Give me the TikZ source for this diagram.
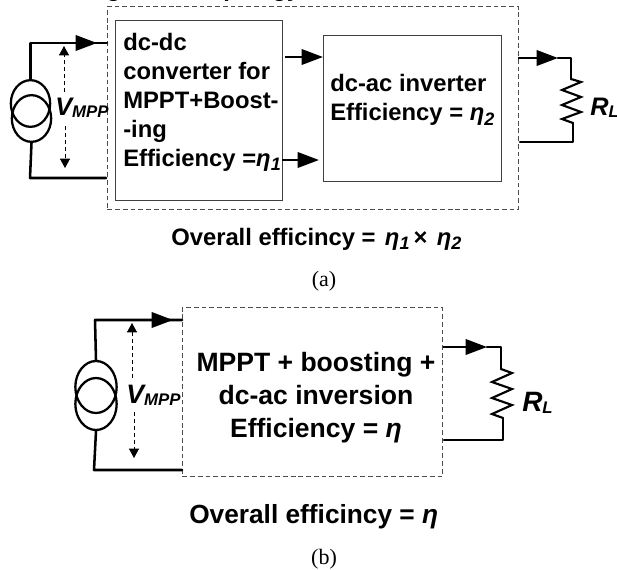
\documentclass[tikz,border=0pt]{standalone}
\usepackage{fontspec}
\setmainfont{Liberation Sans}
\newfontfamily\capfont{Liberation Serif}
\usetikzlibrary{arrows.meta,shapes.geometric}
\newcommand{\fs}[1]{\fontsize{#1}{#1}\selectfont}
\newcommand{\lowtxt}[1]{\raisebox{-0.2em}{\fontsize{13.5}{13.5}\selectfont\textit{#1}}}
\newcommand{\lowsm}[1]{\raisebox{-0.1em}{\fontsize{12.6}{12.6}\selectfont\textit{#1}}}
\tikzset{
  wire/.style={line width=1.9pt,line cap=round,line join=round},
  zig/.style={line width=1.6pt,line cap=round,line join=miter},
  thinbox/.style={draw=black!75,line width=.8pt,inner sep=0pt,anchor=north west},
  dashbox/.style={draw=black!70,line width=.7pt,dash pattern=on 3.6pt off 2.2pt,inner sep=0pt,anchor=north west},
  headtip/.style={line width=1.9pt,-{Triangle[length=16pt,width=11.5pt]}},
  volt/.style={line width=.6pt,dash pattern=on 3pt off 2.2pt,-{Triangle[length=7pt,width=7.5pt]}},
  srcA/.style={draw,ellipse,line width=1.7pt,inner sep=0pt,minimum width=29.5pt,minimum height=35pt},
  srcB/.style={draw,ellipse,line width=1.7pt,inner sep=0pt,minimum width=31pt,minimum height=39pt},
  lab/.style={inner sep=0pt},
  captext/.style={inner sep=0pt,font=\capfont\fs{16.5}},
}
\begin{document}
\begin{tikzpicture}[x=.75pt,y=-.75pt]
\useasboundingbox (0,0) rectangle (617,569);
\begin{scope}
\clip (0,0) rectangle (617,569);
\node[lab,anchor=base west,font=\bfseries\fs{17.85}] (cutg) at (106,-4) {g};
\node[lab,anchor=base west,font=\bfseries\fs{17.85}] (cutp) at (223,-4) {p};
\node[lab,anchor=base west,font=\bfseries\fs{17.85}] (cutgy) at (272,-4) {gy};
\end{scope}
% ---------- panel a
\node[dashbox,minimum width=308.25pt,minimum height=152.25pt] (outerA) at (107,6) {};
\node[thinbox,minimum width=125.25pt,minimum height=135pt] (conv) at (115,20) {};
\node[thinbox,minimum width=133.5pt,minimum height=109.5pt] (inv) at (323,35) {};
\node[lab,anchor=west,align=left,font=\bfseries\fontsize{17.85}{21.75}\selectfont] (convT) at (123,102) {dc-dc\\converter for\\MPPT+Boost-\\-ing\\Efficiency =\textit{η}\lowtxt{1}};
\node[lab,anchor=west,align=left,font=\bfseries\fontsize{17.85}{21.75}\selectfont] (invT) at (330,100) {dc-ac inverter\\Efficiency = \textit{η}\lowtxt{2}};
\node[lab,anchor=base west,font=\bfseries\fs{17.85}] (ovA) at (171,245) {Overall efficincy =\hspace{7pt}\textit{η}\lowtxt{1}\hspace{3pt}×\hspace{7pt}\textit{η}\lowtxt{2}};
\node[captext,anchor=base] (capA) at (324,286) {(a)};
\node[srcA] (s1a) at (30.5,103.5) {};
\node[srcA] (s2a) at (31.5,118.5) {};
\coordinate (tlA) at (30.5,43);
\coordinate (tipA) at (97,43);
\coordinate (inA) at (107,43);
\coordinate (blA) at (30,178);
\coordinate (inB) at (106,178);
\draw[wire] (s1a.north) -- (tlA) -- (inA);
\draw[headtip] (tlA) -- (tipA);
\draw[wire] (s2a.south) -- (blA) -- (inB);
\node[lab,anchor=base west,font=\bfseries\itshape\fs{19}] (vA) at (55,115) {V\lowsm{MPP}};
\coordinate (vA1) at (64,92);
\coordinate (vA2) at (64,46);
\coordinate (vA3) at (65,126);
\coordinate (vA4) at (65,168);
\draw[volt] (vA1) -- (vA2);
\draw[volt] (vA3) -- (vA4);
\coordinate (c1a) at (285,57);
\coordinate (c1b) at (inv.west |- c1a);
\coordinate (c2a) at (282,160);
\coordinate (c2b) at (319,160);
\draw[headtip] (c1a) -- (c1b);
\draw[headtip] (c2a) -- (c2b);
\coordinate (oA) at (518,58);
\coordinate (tipR) at (558,58);
\coordinate (trA) at (571,58);
\coordinate (z0) at (571,79);
\coordinate (z7) at (573,123);
\coordinate (brA) at (573,142);
\coordinate (oB) at (520,142);
\draw[headtip] (oA) -- (tipR);
\draw[wire] (tipR) -- (trA) -- (z0);
\draw[zig] (z0) -- (581,82) -- (562,90) -- (581,97) -- (562,105) -- (581,112) -- (562,119) -- (z7);
\draw[wire] (z7) -- (brA) -- (oB);
\node[lab,anchor=base west,font=\bfseries\itshape\fs{19}] (rA) at (590,115) {R\lowsm{L}};
% ---------- panel b
\node[dashbox,minimum width=195pt,minimum height=126.75pt] (outerB) at (182,307) {};
\node[lab,align=center,font=\bfseries\fontsize{19.9}{24.75}\selectfont] (mainT) at (316,398) {MPPT + boosting +\\dc-ac inversion\\Efficiency = \textit{η}};
\node[lab,anchor=base west,font=\bfseries\fs{19.7}] (ovB) at (189,523) {Overall efficincy = \textit{η}};
\node[captext,anchor=base] (capB) at (324,564) {(b)};
\node[srcB] (s1b) at (96,387) {};
\node[srcB] (s2b) at (96,404) {};
\coordinate (tlB) at (95,320);
\coordinate (tipB) at (173,320);
\coordinate (inC) at (182,320);
\coordinate (blB) at (94,470);
\coordinate (inD) at (182,470);
\draw[wire] (s1b.north) -- (tlB) -- (inC);
\draw[headtip] (tlB) -- (tipB);
\draw[wire] (s2b.south) -- (blB) -- (inD);
\node[lab,anchor=base west,font=\bfseries\itshape\fs{20}] (vB) at (126,403) {V\lowsm{MPP}};
\coordinate (vB1) at (132,378);
\coordinate (vB2) at (132,323);
\coordinate (vB3) at (134,412);
\coordinate (vB4) at (134,458);
\draw[volt] (vB1) -- (vB2);
\draw[volt] (vB3) -- (vB4);
\coordinate (oC) at (443,347);
\coordinate (tipS) at (487,347);
\coordinate (trB) at (501,347);
\coordinate (y0) at (501,369);
\coordinate (y7) at (503,418);
\coordinate (brB) at (503,440);
\coordinate (oD) at (444,440);
\draw[headtip] (oC) -- (tipS);
\draw[wire] (tipS) -- (trB) -- (y0);
\draw[zig] (y0) -- (512,373) -- (492,382) -- (512,389) -- (492,398) -- (512,405) -- (492,414) -- (y7);
\draw[wire] (y7) -- (brB) -- (oD);
\node[lab,anchor=base west,font=\bfseries\itshape\fs{21}] (rB) at (522,411) {R\lowsm{L}};
\end{tikzpicture}
\end{document}
